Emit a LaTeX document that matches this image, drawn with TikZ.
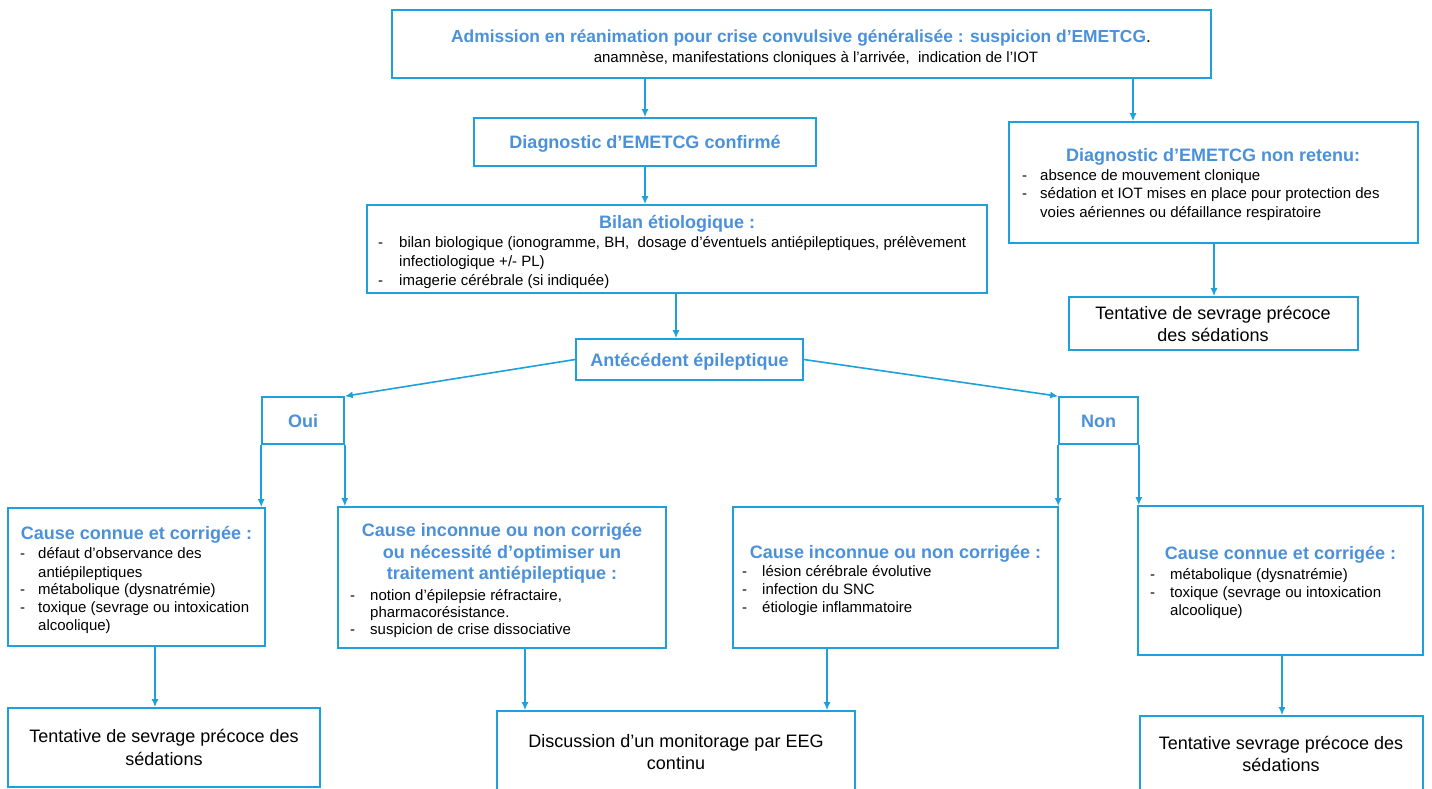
\documentclass[tikz,border=0pt]{standalone}
\usepackage{fontspec}
\setmainfont{Liberation Sans}
\usetikzlibrary{arrows.meta}
\definecolor{lc}{RGB}{30,160,220}
\definecolor{tc}{RGB}{75,145,218}
\newcommand\bitem[4]{\node[bod] at (#1,#3) {-}; \node[bod] at (#2,#3) {#4};}
\newcommand\bcont[3]{\node[bod] at (#1,#2) {#3};}
\begin{document}
\begin{tikzpicture}[x=1pt,y=-1pt,
 box/.style={draw=lc, line width=1.6pt, inner sep=0, fill=white},
 arr/.style={draw=lc, line width=1.6pt, -{Latex[length=8pt,width=7pt]}},
 ttl/.style={font=\fontsize{18}{21}\selectfont\bfseries, text=tc, inner sep=0, text height=13pt, text depth=4pt, yshift=-2pt},
 bod/.style={font=\fontsize{15}{18}\selectfont, inner sep=0, anchor=west, text height=11pt, text depth=3.5pt, yshift=-2pt},
 big/.style={font=\fontsize{18}{22}\selectfont, inner sep=0, text height=13pt, text depth=4pt, yshift=-1.5pt}]
\useasboundingbox (0,0) rectangle (1432,789);
\clip (0,0) rectangle (1432,789);

% boxes
\node[box, minimum width=819pt, minimum height=68pt] (top) at (801.5,44) {};
\node[box, minimum width=342pt, minimum height=48pt] (conf) at (645,142) {};
\node[box, minimum width=409pt, minimum height=121pt] (rA) at (1213.5,182.5) {};
\node[box, minimum width=289pt, minimum height=53pt] (rB) at (1213.5,323.5) {};
\node[box, minimum width=620pt, minimum height=88pt] (bil) at (677,249) {};
\node[box, minimum width=227pt, minimum height=41pt] (ant) at (689.5,359.5) {};
\node[box, minimum width=82pt, minimum height=47pt] (oui) at (303,420.5) {};
\node[box, minimum width=79pt, minimum height=47pt] (non) at (1098.5,420.5) {};
\node[box, minimum width=257pt, minimum height=138pt] (cL) at (136.5,577) {};
\node[box, minimum width=328pt, minimum height=141pt] (cML) at (502,577.5) {};
\node[box, minimum width=325pt, minimum height=141pt] (cMR) at (895.5,577.5) {};
\node[box, minimum width=285pt, minimum height=149pt] (cR) at (1280.5,580.5) {};
\node[box, minimum width=312pt, minimum height=79pt] (bL) at (164,747.5) {};
\node[box, minimum width=358pt, minimum height=89pt] (bM) at (676,755.5) {};
\node[box, minimum width=283pt, minimum height=84pt] (bR) at (1281.5,758) {};

% connectors
\draw[arr] (conf.north |- top.south) -- (conf.north);
\draw[arr] (1133,0 |- top.south) -- (1133,0 |- rA.north);
\draw[arr] (1214,0 |- rA.south) -- (1214,0 |- rB.north);
\draw[arr] (conf.south) -- (conf.south |- bil.north);
\draw[arr] (676,0 |- bil.south) -- (676,0 |- ant.north);
\draw[arr] (ant.west) -- (oui.north east);
\draw[arr] (ant.east) -- (non.north west);
\draw[arr] (oui.south west) -- (oui.south west |- cL.north);
\draw[arr] (oui.south east) -- (oui.south east |- cML.north);
\draw[arr] (non.south west) -- (non.south west |- cMR.north);
\draw[arr] (non.south east) -- (non.south east |- cR.north);
\draw[arr] (155,0 |- cL.south) -- (155,0 |- bL.north);
\draw[arr] (525,0 |- cML.south) -- (525,0 |- bM.north);
\draw[arr] (827,0 |- cMR.south) -- (827,0 |- bM.north);
\draw[arr] (1282,0 |- cR.south) -- (1282,0 |- bR.north);

% texts
\node[ttl, font=\fontsize{17.4}{21}\selectfont\bfseries] (tTop) at (801,36) {Admission en réanimation pour crise convulsive généralisée : suspicion d’EMETCG\textcolor{black}{\mdseries.}};
\node[bod, anchor=center] at (816,57) {anamnèse, manifestations cloniques à l'arrivée,\ \ indication de l'IOT};

\node[ttl] (tConf) at (645,142) {Diagnostic d’EMETCG confirmé};

\node[ttl] (tRA) at (1213,155) {Diagnostic d’EMETCG non retenu:};
\bitem{1022}{1040}{175}{absence de mouvement clonique}
\bitem{1022}{1040}{193}{sédation et IOT mises en place pour protection des}
\bcont{1040}{212}{voies aériennes ou défaillance respiratoire}

\node[big] at (1213,313) {Tentative de sevrage précoce};
\node[big] at (1213,335) {des sédations};

\node[ttl] (tBil) at (677,222) {Bilan étiologique :};
\bitem{378}{399}{242}{bilan biologique (ionogramme, BH,\ \ dosage d'éventuels antiépileptiques, prélèvement}
\bcont{399}{261}{infectiologique +/- PL)}
\bitem{378}{399}{280}{imagerie cérébrale (si indiquée)}

\node[ttl] (tAnt) at (ant.center) {Antécédent épileptique};
\node[ttl] (tOui) at (oui.center) {Oui};
\node[ttl] (tNon) at (non.center) {Non};

\node[ttl] at (136.5,533) {Cause connue et corrigée :};
\bitem{20}{38}{553}{défaut d'observance des}
\bcont{38}{572}{antiépileptiques}
\bitem{20}{38}{589}{métabolique (dysnatrémie)}
\bitem{20}{38}{607}{toxique (sevrage ou intoxication}
\bcont{38}{625}{alcoolique)}

\node[ttl] at (502,530) {Cause inconnue ou non corrigée};
\node[ttl] at (502,552) {ou nécessité d’optimiser un};
\node[ttl] at (502,573) {traitement antiépileptique :};
\bitem{350}{370}{595}{notion d'épilepsie réfractaire,}
\bcont{370}{612}{pharmacorésistance.}
\bitem{350}{370}{629}{suspicion de crise dissociative}

\node[ttl] at (895.5,552) {Cause inconnue ou non corrigée :};
\bitem{742}{762}{571}{lésion cérébrale évolutive}
\bitem{742}{762}{589}{infection du SNC}
\bitem{742}{762}{607}{étiologie inflammatoire}

\node[ttl] at (1280.5,553) {Cause connue et corrigée :};
\bitem{1150}{1170}{574}{métabolique (dysnatrémie)}
\bitem{1150}{1170}{592}{toxique (sevrage ou intoxication}
\bcont{1170}{610}{alcoolique)}

\node[big] at (164,736) {Tentative de sevrage précoce des};
\node[big] at (164,759) {sédations};
\node[big] at (676,741) {Discussion d'un monitorage par EEG};
\node[big] at (676,763) {continu};
\node[big] at (1281,743) {Tentative sevrage précoce des};
\node[big] at (1281,765) {sédations};
\end{tikzpicture}
\end{document}
